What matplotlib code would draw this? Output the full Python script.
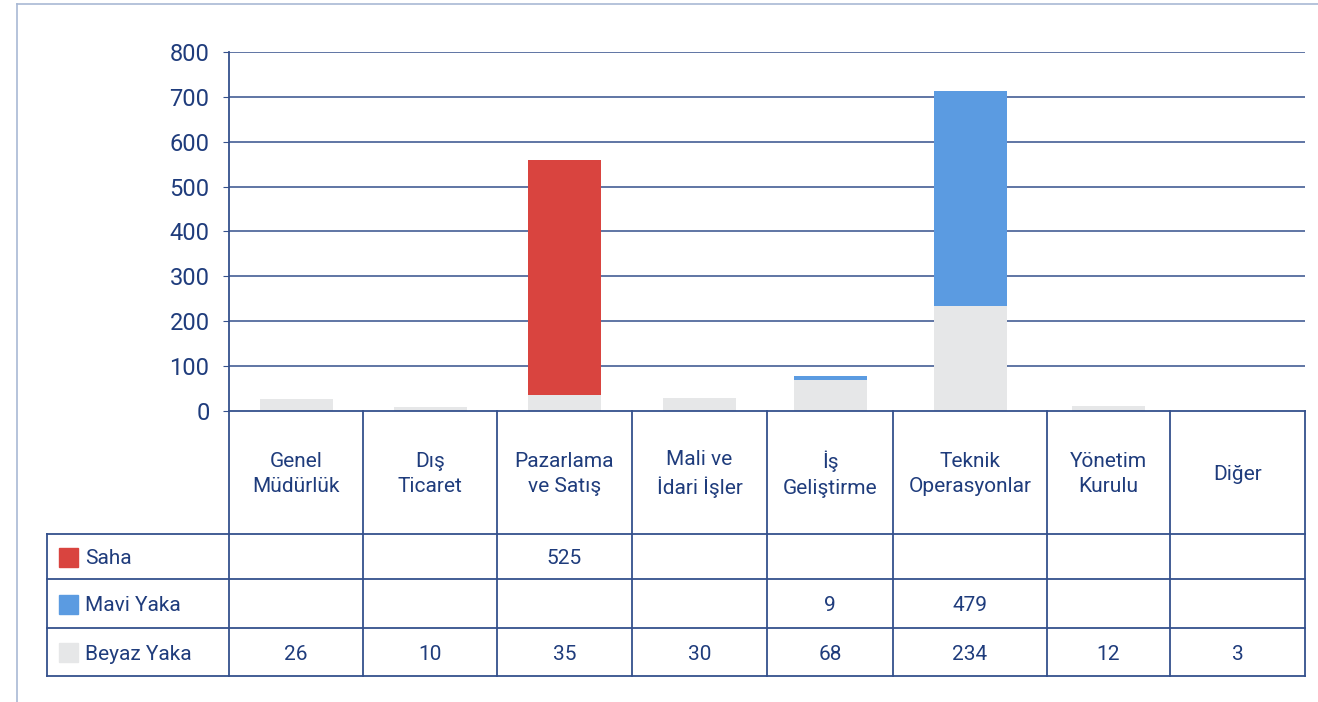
import matplotlib.pyplot as plt
import numpy as np

plt.rcParams['font.family'] = ['Roboto', 'DejaVu Sans']

# data
departments = ['Genel\nMüdürlük', 'Dış\nTicaret', 'Pazarlama\nve Satış', 'Mali ve\nİdari İşler',
               'İş\nGeliştirme', 'Teknik\nOperasyonlar', 'Yönetim\nKurulu', 'Diğer']
beyaz_yaka = [26, 10, 35, 30, 68, 234, 12, 3]
mavi_yaka = [0, 0, 0, 0, 9, 479, 0, 0]
saha = [0, 0, 525, 0, 0, 0, 0, 0]
series_names = ['Saha', 'Mavi Yaka', 'Beyaz Yaka']
yticks = [0, 100, 200, 300, 400, 500, 600, 700, 800]

# style
navy = '#1f3c7c'
line_col = '#34508c'
c_saha = '#d9443f'
c_mavi = '#5b9be1'
c_beyaz = '#e6e7e8'
fs = 15

W, H = 1318, 702
col_w = [134, 134, 135, 135, 126, 154, 123, 135]
edges = np.concatenate([[0], np.cumsum(col_w)])
centers = (edges[:-1] + edges[1:]) / 2
x0, x1 = 229, 1305
y_top, y_zero = 52, 411

fig = plt.figure(figsize=(W / 100, H / 100), dpi=100)

# bar chart
ax = fig.add_axes([x0 / W, (H - y_zero) / H, (x1 - x0) / W, (y_zero - y_top) / H])
b = np.array(beyaz_yaka)
m = np.array(mavi_yaka)
s = np.array(saha)
ax.bar(centers, b, width=73, color=c_beyaz, zorder=3)
ax.bar(centers, m, width=73, bottom=b, color=c_mavi, zorder=3)
ax.bar(centers, s, width=73, bottom=b + m, color=c_saha, zorder=3)
ax.set_xlim(edges[0], edges[-1])
ax.set_ylim(0, 800)
ax.set_yticks(yticks)
ax.set_yticklabels([str(v) for v in yticks], fontsize=17, color=navy)
ax.tick_params(axis='y', length=4, color=line_col, pad=10)
ax.set_xticks([])
for v in yticks[1:]:
    ax.axhline(v, color=line_col, lw=1.1, zorder=1)
for sp in ['top', 'right', 'bottom']:
    ax.spines[sp].set_visible(False)
ax.spines['left'].set_color(line_col)
ax.spines['left'].set_linewidth(1.3)

# table drawn in pixel coordinates
tx = fig.add_axes([0, 0, 1, 1])
tx.set_xlim(0, W)
tx.set_ylim(H, 0)
tx.axis('off')

rows_y = [411, 534, 579, 628, 676]
lw = 1.3
tx.plot([x0, x1], [rows_y[0], rows_y[0]], color=line_col, lw=lw)
for yy in rows_y[1:]:
    tx.plot([47, x1], [yy, yy], color=line_col, lw=lw)
tx.plot([47, 47], [rows_y[1], rows_y[-1]], color=line_col, lw=lw)
for e in edges:
    tx.plot([x0 + e, x0 + e], [rows_y[0], rows_y[-1]], color=line_col, lw=lw)

for c, name in zip(centers, departments):
    tx.text(x0 + c, 474, name, ha='center', va='center', fontsize=fs,
            color=navy, linespacing=1.45)

row_vals = [saha, mavi_yaka, beyaz_yaka]
row_cols = [c_saha, c_mavi, c_beyaz]
for i, (name, vals, col) in enumerate(zip(series_names, row_vals, row_cols)):
    yc = (rows_y[i + 1] + rows_y[i + 2]) / 2 + 2
    tx.add_patch(plt.Rectangle((59, yc - 11), 19, 19, color=col))
    tx.text(85, yc, name, ha='left', va='center', fontsize=fs, color=navy)
    for c, v in zip(centers, vals):
        if v:
            tx.text(x0 + c, yc, str(v), ha='center', va='center', fontsize=fs, color=navy)

# outer frame
tx.plot([17, 17], [4, H], color='#a9b9d4', lw=1.2)
tx.plot([17, W], [4, 4], color='#a9b9d4', lw=1.2)

fig.savefig('out.png', dpi=100)
